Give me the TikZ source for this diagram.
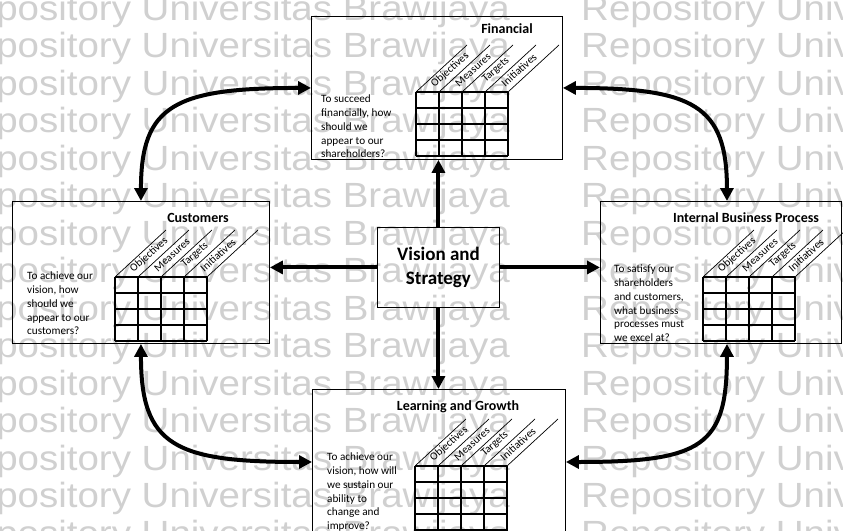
\documentclass[tikz,border=0pt]{standalone}
\usepackage{fontspec}
\setmainfont{Carlito}
\newfontfamily\wmfont{Liberation Sans}
\usetikzlibrary{arrows.meta,calc}
\definecolor{wmgray}{RGB}{208,208,208}

\newcommand\bscgrid[3]{%
  \foreach \c in {0,...,4} \draw[gridline] ({#1+23*\c},#2) -- ({#1+23*\c},{#2+16*#3});
  \foreach \r in {0,...,#3} \draw[gridline] (#1,{#2+16*\r}) -- ({#1+92},{#2+16*\r});
  \foreach \c in {0,...,4} \draw[diagline] ({#1+23*\c},#2) -- ({#1+23*\c+51},{#2-47});
  \foreach \lab [count=\k from 0] in {Objectives,Measures,Targets,Initiatives}
    \node[hdr] at ({#1+23*\k+34},{#2-22}) {\lab};
}

\begin{document}
\begin{tikzpicture}[x=1pt,y=-1pt,
  box/.style={draw=black,line width=0.9pt,inner sep=0pt,anchor=north west},
  gridline/.style={line width=1.1pt},
  diagline/.style={line width=0.7pt},
  ttl/.style={font=\fontsize{14}{16}\selectfont\bfseries,inner sep=0pt},
  body/.style={font=\fontsize{11.2}{13.7}\selectfont,align=left,inner sep=0pt,anchor=north west},
  hdr/.style={font=\fontsize{11}{12}\selectfont,rotate=42,inner sep=0pt},
  bigarrow/.style={line width=4pt,-{Triangle[length=13pt,width=13pt]}},
  curvearrow/.style={line width=4pt,{Triangle[length=13pt,width=13pt]}-{Triangle[length=13pt,width=13pt]}},
  wm/.style={font=\fontsize{35}{35}\selectfont\wmfont,text=wmgray,inner sep=0pt}
]
\useasboundingbox (0,0) rectangle (843,530);
\clip (0,0) rectangle (843,530);

% watermark (background)
\foreach \r in {0,...,14} {
  \node[wm,anchor=base east] (wmL\r) at (510,{20+37.5*\r}) {\scalebox{1.1}[1]{Repository Universitas Brawijaya}};
  \node[wm,anchor=base west] (wmR\r) at (581,{20+37.5*\r}) {\scalebox{1.1}[1]{Repository Universitas Brawijaya}};
}

% boxes
\node[box,minimum width=251pt,minimum height=143pt] (fin) at (311,16) {};
\node[box,minimum width=257pt,minimum height=142pt] (cust) at (12,201) {};
\node[box,minimum width=241pt,minimum height=142pt] (int) at (600,201) {};
\node[box,minimum width=253pt,minimum height=160pt] (lrn) at (312,389) {};
\node[box,minimum width=122pt,minimum height=80pt,align=center,
      font=\fontsize{19}{24}\selectfont\bfseries] (vis) at (377,227) {Vision and\\Strategy};

% titles
\node[ttl] (fint) at (507,29) {Financial};
\node[ttl] (custt) at (198,218) {Customers};
\node[ttl] (intt) at (746,218) {Internal Business Process};
\node[ttl] (lrnt) at (458,407) {Learning and Growth};

% questions
\node[body] (finq) at (321,95) {To succeed\\financially, how\\should we\\appear to our\\shareholders?};
\node[body] (custq) at (27,272) {To achieve our\\vision, how\\should we\\appear to our\\customers?};
\node[body] (intq) at (614,265) {To satisfy our\\shareholders\\and customers,\\what business\\processes must\\we excel at?};
\node[body] (lrnq) at (327,453) {To achieve our\\vision, how will\\we sustain our\\ability to\\change and\\improve?};

% grids
\bscgrid{416}{92}{4}
\bscgrid{115}{277}{4}
\bscgrid{703}{277}{4}
\bscgrid{415}{466}{5}

% straight arrows
\draw[bigarrow] (vis.north) -- (vis.north |- fin.south);
\draw[bigarrow] (vis.west) -- (vis.west -| cust.east);
\draw[bigarrow] (vis.east) -- (vis.east -| int.west);
\draw[bigarrow] (vis.south) -- (vis.south |- lrn.north);

% curved arrows
\draw[curvearrow] (fin.west) .. controls +(-136,0) and +(0,-96) .. (cust.north);
\draw[curvearrow] (fin.east) .. controls +(130,0) and +(0,-96) .. ([xshift=6pt]int.north);
\draw[curvearrow] (cust.south) .. controls +(0,102) and +(-137,0) .. ($(lrn.north west)+(0,73)$);
\draw[curvearrow] ([xshift=6pt]int.south) .. controls +(0,102) and +(137,0) .. ($(lrn.north east)+(0,73)$);
\end{tikzpicture}
\end{document}
